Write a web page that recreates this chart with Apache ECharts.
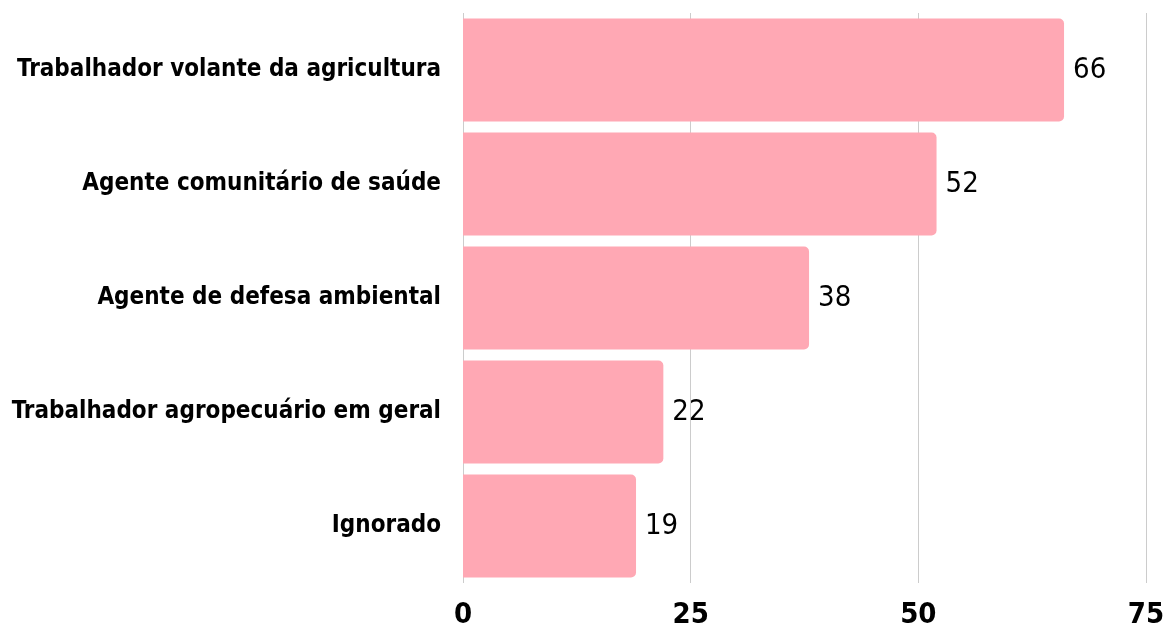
<!DOCTYPE html>
<html>
<head>
<meta charset="utf-8">
<script src="https://cdn.jsdelivr.net/npm/echarts@6/dist/echarts.min.js"></script>
<style>
  html, body { margin: 0; padding: 0; background: #fff; }
  #chart { width: 1165px; height: 628px; }
</style>
</head>
<body>
<div id="chart"></div>
<script>
// dados do gráfico (de cima para baixo)
const categories = [
  "Trabalhador volante da agricultura",
  "Agente comunitário de saúde",
  "Agente de defesa ambiental",
  "Trabalhador agropecuário em geral",
  "Ignorado",
];
const values = [66, 52, 38, 22, 19];
const xTicks = [0, 25, 50, 75];

const FONT = "Liberation Sans Narrow, DejaVu Sans Condensed, sans-serif";

const chart = echarts.init(document.getElementById("chart"));

const option = {
  animation: false,
  grid: {
    left: 463,
    right: 19,
    top: 13,
    bottom: 45,
    containLabel: false,
    outerBoundsMode: "none",
  },
  xAxis: {
    type: "value",
    min: xTicks[0],
    max: xTicks[xTicks.length - 1],
    interval: 25,
    axisLine: { show: false },
    axisTick: { show: false },
    splitLine: { show: true, lineStyle: { color: "#cccccc", width: 1 } },
    axisLabel: {
      margin: 18,
      fontFamily: FONT,
      fontWeight: "bold",
      fontSize: 29,
      color: "#000",
    },
  },
  yAxis: {
    type: "category",
    data: categories,
    inverse: true,
    axisLine: { show: false },
    axisTick: { show: false },
    axisLabel: {
      margin: 22,
      fontFamily: FONT,
      fontWeight: "bold",
      fontSize: 24,
      color: "#000",
      padding: [6, 0, 0, 0],
    },
  },
  series: [
    {
      type: "bar",
      data: values,
      barCategoryGap: "9.6%",
      itemStyle: { color: "#ffa8b4", borderRadius: [0, 5, 5, 0] },
      label: {
        show: true,
        position: "right",
        distance: 9,
        fontFamily: FONT,
        fontSize: 29,
        color: "#000",
        padding: [6, 0, 0, 0],
      },
    },
  ],
};

chart.setOption(option);
window.addEventListener("resize", () => chart.resize());
</script>
</body>
</html>
